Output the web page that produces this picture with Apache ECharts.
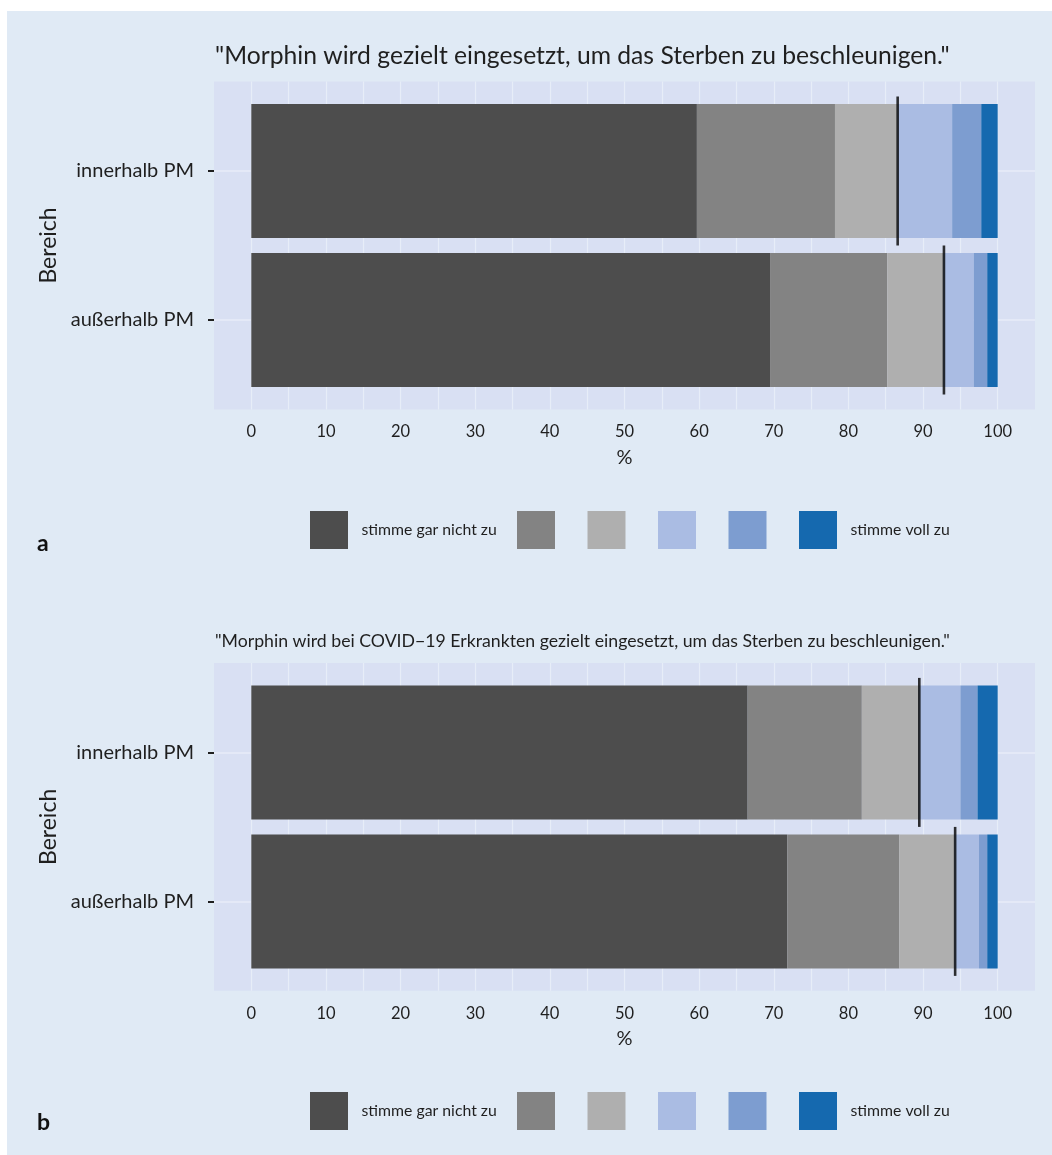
<!DOCTYPE html>
<html>
<head>
<meta charset="utf-8"/>
<title>Morphin Befragung</title>
<script src="https://cdn.jsdelivr.net/npm/echarts@6/dist/echarts.min.js"></script>
<style>
  html, body { margin: 0; padding: 0; background: #fff; }
  #chart { width: 1052px; height: 1155px; }
</style>
</head>
<body>
<div id="chart"></div>
<script>
// Daten (Prozent je Antwortstufe, gelesen aus der Abbildung)
var categories = ['innerhalb PM', 'außerhalb PM'];
var levels = ['stimme gar nicht zu', 'k2', 'k3', 'k4', 'k5', 'stimme voll zu'];
var levelColors = ['#4d4d4d', '#838383', '#afafaf', '#aabce3', '#7d9dd0', '#1569af'];

var aInner = [59.7, 18.5, 8.4, 7.3, 3.9, 2.2];
var aOuter = [69.5, 15.7, 7.5, 4.1, 1.8, 1.4];
var aMarker = [86.6, 92.8];

var bInner = [66.5, 15.3, 7.6, 5.6, 2.3, 2.7];
var bOuter = [71.8, 15.0, 7.4, 3.3, 1.1, 1.4];
var bMarker = [89.5, 94.3];

var xTicks = [0, 10, 20, 30, 40, 50, 60, 70, 80, 90, 100];

var titleA = '"Morphin wird gezielt eingesetzt, um das Sterben zu beschleunigen."';
var titleB = '"Morphin wird bei COVID\u221219 Erkrankten gezielt eingesetzt, um das Sterben zu beschleunigen."';

var FONT = 'Lato';
var INK = '#1f1f1f';
var PANEL = '#d9e0f3';
var GRIDLINE = '#e7edf8';

// y-Achse: 12 Slots (Schritt 0.2) von -0.6 bis 1.6, wie die ggplot-Expansion
var ySlots = [];
for (var i = 0; i < 12; i++) ySlots.push('s' + i);
function slotOf(c) { return 3 + c * 5; }
function catAtSlot(idx) {
  for (var c = 0; c < categories.length; c++) if (slotOf(c) === idx) return categories[c];
  return null;
}
// x-Hilfsachse: -5 .. 105 in 5er-Schritten (Ticks/Gitter)
var xSlots = [];
for (var v = -5; v <= 105; v += 5) xSlots.push(String(v));

var chart = echarts.init(document.getElementById('chart'));

var grids = [
  { left: 214, right: 17, top: 81.6, height: 327.8, show: true, backgroundColor: PANEL, borderWidth: 0 },
  { left: 214, right: 17, top: 663, height: 327.8, show: true, backgroundColor: PANEL, borderWidth: 0 }
];

var xAxes = [], yAxes = [], series = [];

function addPanel(g, inner, outer, marker) {
  xAxes.push({
    type: 'value', gridIndex: g, min: -5, max: 105,
    axisLabel: { show: false }, axisTick: { show: false },
    axisLine: { show: false, onZero: false },
    splitLine: { show: false }
  });
  xAxes.push({
    type: 'category', gridIndex: g, data: xSlots, boundaryGap: false, position: 'bottom',
    axisLine: { show: false, onZero: false },
    axisTick: {
      length: 5, lineStyle: { color: INK, width: 2 },
      interval: function (idx, val) { return xTicks.indexOf(+val) >= 0; }
    },
    axisLabel: {
      margin: 14, color: INK, fontFamily: FONT, fontSize: 16.5,
      interval: function (idx, val) { return xTicks.indexOf(+val) >= 0; }
    },
    splitLine: {
      show: true, lineStyle: { color: GRIDLINE, width: 1.2 },
      interval: function (idx) { return idx > 0 && idx < xSlots.length - 1; }
    },
    name: '%', nameLocation: 'middle', nameGap: 38,
    nameTextStyle: { color: INK, fontFamily: FONT, fontSize: 20 }
  });
  yAxes.push({
    type: 'category', gridIndex: g, data: ySlots, boundaryGap: false, inverse: true,
    axisLine: { show: false, onZero: false },
    axisTick: {
      length: 6, lineStyle: { color: INK, width: 2 },
      interval: function (idx) { return catAtSlot(idx) !== null; }
    },
    axisLabel: {
      margin: 20, color: INK, fontFamily: FONT, fontSize: 20,
      interval: function (idx) { return catAtSlot(idx) !== null; },
      formatter: function (val, idx) { return catAtSlot(idx) || ''; }
    },
    splitLine: {
      show: true, lineStyle: { color: GRIDLINE, width: 1.5 },
      interval: function (idx) { return catAtSlot(idx) !== null; }
    },
    name: 'Bereich', nameLocation: 'middle', nameRotate: 90, nameGap: 151,
    nameTextStyle: { color: INK, fontFamily: FONT, fontSize: 23 }
  });

  var xi = g * 2, yi = g;
  levels.forEach(function (lv, k) {
    var d = ySlots.map(function () { return '-'; });
    d[slotOf(0)] = inner[k];
    d[slotOf(1)] = outer[k];
    series.push({
      name: lv, type: 'bar', stack: 'p' + g, xAxisIndex: xi, yAxisIndex: yi,
      barWidth: 134, data: d, itemStyle: { color: levelColors[k] },
      silent: true
    });
  });
  series.push({
    type: 'scatter', xAxisIndex: xi, yAxisIndex: yi, symbol: 'rect',
    symbolSize: [2.6, 149], itemStyle: { color: '#000' }, z: 5, silent: true,
    data: marker.map(function (m, c) { return [m, slotOf(c)]; })
  });
}

addPanel(0, aInner, aOuter, aMarker);
addPanel(1, bInner, bOuter, bMarker);

// Legende: erster Schlüssel einzeln, Rest gleichmäßig
function legendPart(left, top, names) {
  return {
    left: left, top: top, padding: 0, icon: 'rect', itemWidth: 38, itemHeight: 38, itemGap: 32.5,
    selectedMode: false, data: names,
    textStyle: { color: INK, fontFamily: FONT, fontSize: 15.8, padding: [0, 0, 0, 8.5] },
    formatter: function (n) { return (n === levels[0] || n === levels[levels.length - 1]) ? n : ''; }
  };
}

chart.setOption({
  backgroundColor: '#ffffff',
  animation: false,
  graphic: [
    { type: 'rect', left: 7, top: 11, shape: { width: 1045, height: 1144 }, style: { fill: '#e0eaf5' }, z: -100, silent: true }
  ],
  title: [
    { text: titleA, left: 210, top: 39, textStyle: { color: INK, fontFamily: FONT, fontSize: 24.7, fontWeight: 'normal' } },
    { text: titleB, left: 210, top: 627, textStyle: { color: INK, fontFamily: FONT, fontSize: 17.7, fontWeight: 'normal' } },
    { text: 'a', left: 32, top: 527, textStyle: { color: '#111', fontFamily: FONT, fontSize: 23, fontWeight: 'bold' } },
    { text: 'b', left: 32, top: 1106, textStyle: { color: '#111', fontFamily: FONT, fontSize: 23, fontWeight: 'bold' } }
  ],
  legend: [
    legendPart(310, 511, levels.slice(0, 1)),
    legendPart(517, 511, levels.slice(1)),
    legendPart(310, 1092, levels.slice(0, 1)),
    legendPart(517, 1092, levels.slice(1))
  ],
  grid: grids,
  xAxis: xAxes,
  yAxis: yAxes,
  series: series
});
</script>
</body>
</html>
